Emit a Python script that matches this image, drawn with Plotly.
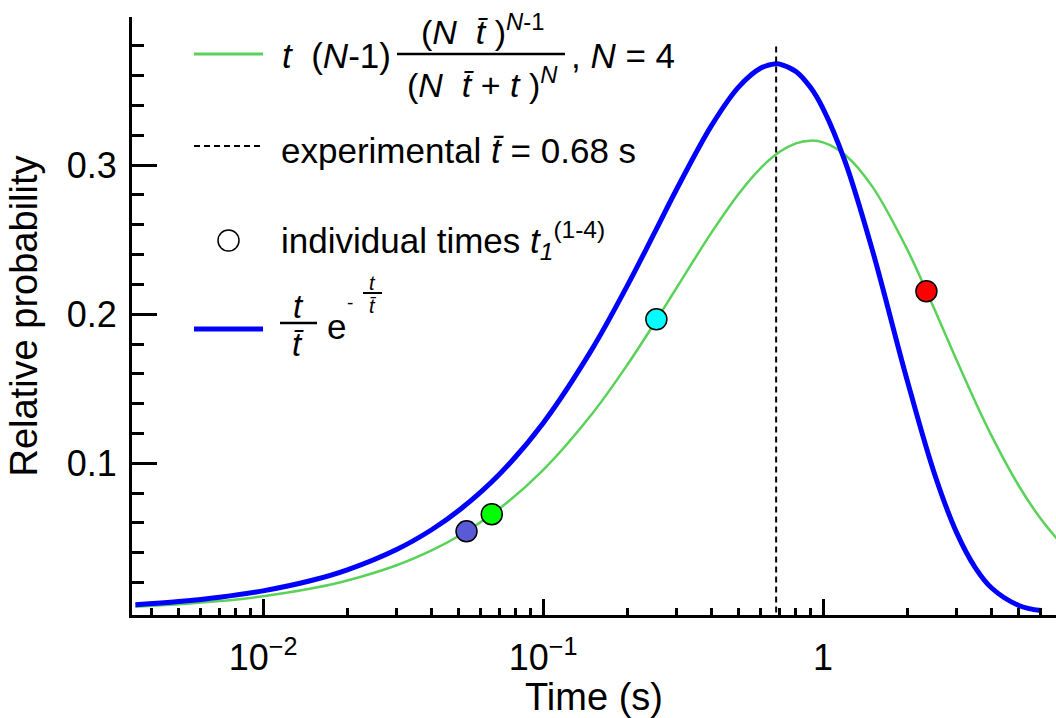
import plotly.graph_objects as go

# ---- data ----
t_bar = 0.68

t_blue = [0.0035, 0.005, 0.007, 0.01, 0.015, 0.02, 0.03, 0.04, 0.05, 0.07, 0.1, 0.15,
          0.2, 0.25, 0.3, 0.4, 0.5, 0.6, 0.68, 0.7, 0.8, 0.9, 1.0, 1.2, 1.5, 2.0, 2.5,
          3.0, 3.5, 4.0, 5.0, 6.0]
p_blue = [0.00512, 0.00730, 0.01019, 0.01449, 0.02158, 0.02856, 0.04221, 0.05546,
          0.06832, 0.09287, 0.12695, 0.17693, 0.21917, 0.25454, 0.28380, 0.32664,
          0.35247, 0.36513, 0.36788, 0.36772, 0.36278, 0.35232, 0.33793, 0.30218,
          0.24299, 0.15531, 0.09306, 0.05353, 0.02994, 0.01640, 0.00471, 0.00130]

t_green = [0.0035, 0.005, 0.007, 0.01, 0.015, 0.02, 0.03, 0.04, 0.05, 0.07, 0.1, 0.15,
           0.2, 0.25, 0.3, 0.4, 0.5, 0.6, 0.7, 0.8, 0.9, 1.0, 1.2, 1.5, 2.0, 2.5, 3.0,
           3.5, 4.0, 5.0, 6.0, 7.0]
p_green = [0.00384, 0.00547, 0.00764, 0.01087, 0.01618, 0.02142, 0.03167, 0.04162,
           0.05127, 0.06975, 0.09546, 0.13347, 0.16608, 0.19397, 0.21773, 0.25484,
           0.28079, 0.29814, 0.30890, 0.31459, 0.31640, 0.31525, 0.30681, 0.28554,
           0.24327, 0.20328, 0.16919, 0.14117, 0.11842, 0.08498, 0.06265, 0.04734]

t_points = [0.0533, 0.0656, 0.254, 2.34]
p_points = [0.0544, 0.0659, 0.1966, 0.2154]
point_colors = ["#5a5ad6", "#00ff00", "#00ffff", "#ff0000"]

dash_top = 0.38

x_major = [0.01, 0.1, 1]
x_major_text = ["10<sup>\u22122</sup>", "10<sup>\u22121</sup>", "1"]
x_minor = [0.004, 0.005, 0.006, 0.007, 0.008, 0.009,
           0.02, 0.03, 0.04, 0.05, 0.06, 0.07, 0.08, 0.09,
           0.2, 0.3, 0.4, 0.5, 0.6, 0.7, 0.8, 0.9,
           2, 3, 4, 5, 6]
y_major = [0.1, 0.2, 0.3]
y_major_text = ["0.1", "0.2", "0.3"]
y_minor = [0.02, 0.04, 0.06, 0.08, 0.12, 0.14, 0.16, 0.18, 0.22, 0.24, 0.26, 0.28,
           0.32, 0.34, 0.36, 0.38]

# ---- figure ----
W, H = 1056, 718
ML, MR, MT, MB = 132, 0, 17, 103
PW, PH = W - ML - MR, H - MT - MB

def px(x):
    return (x - ML) / PW

def py(y):
    return (H - MB - y) / PH

FONT = "Liberation Sans, Arial, sans-serif"
GREEN = "#5ad25a"
BLUE = "#0000ff"

fig = go.Figure()
fig.add_trace(go.Scatter(x=t_green, y=p_green, mode="lines", line=dict(color=GREEN, width=2.5, shape="spline"),
                         showlegend=False, hoverinfo="skip"))
fig.add_trace(go.Scatter(x=t_blue, y=p_blue, mode="lines", line=dict(color=BLUE, width=5, shape="spline"),
                         showlegend=False, hoverinfo="skip"))
fig.add_trace(go.Scatter(x=[t_bar, t_bar], y=[0, dash_top], mode="lines",
                         line=dict(color="black", width=2, dash="6px,4px"), showlegend=False))
fig.add_trace(go.Scatter(x=t_points, y=p_points, mode="markers",
                         marker=dict(size=21, color=point_colors, line=dict(color="black", width=1.5)),
                         showlegend=False))

fig.update_xaxes(type="log", range=[-2.468, 0.832], showline=True, linecolor="black", linewidth=3,
                 showgrid=False, zeroline=False, ticks="inside", ticklen=16, tickwidth=2.5, tickcolor="black",
                 tickmode="array", tickvals=x_major, ticktext=x_major_text, ticklabelstandoff=9,
                 tickfont=dict(family=FONT, size=36, color="black"),
                 minor=dict(tickmode="array", tickvals=x_minor, ticks="inside", ticklen=7,
                            tickwidth=2.5, tickcolor="black", showgrid=False),
                 title=dict(text="Time (s)", font=dict(family=FONT, size=38, color="black"), standoff=0))
fig.update_yaxes(range=[-0.0017, 0.3993], showline=True, linecolor="black", linewidth=3,
                 showgrid=False, zeroline=False, ticks="inside", ticklen=25, tickwidth=2.5, tickcolor="black",
                 tickmode="array", tickvals=y_major, ticktext=y_major_text, ticklabelstandoff=5,
                 tickfont=dict(family=FONT, size=36, color="black"),
                 minor=dict(tickmode="array", tickvals=y_minor, ticks="inside", ticklen=12,
                            tickwidth=2.5, tickcolor="black", showgrid=False),
                 title=dict(text="Relative probability", font=dict(family=FONT, size=38, color="black"),
                            standoff=18))

shapes = []
annos = []

def text(x, y, s, anchor="left", size=35):
    annos.append(dict(x=px(x), y=py(y), xref="paper", yref="paper", text=s, showarrow=False,
                      xanchor=anchor, yanchor="middle", font=dict(family=FONT, size=size, color="black")))

def seg(x0, x1, y, color, width, dash="solid"):
    shapes.append(dict(type="line", xref="paper", yref="paper", x0=px(x0), x1=px(x1), y0=py(y), y1=py(y),
                       line=dict(color=color, width=width, dash=dash)))

tb = "<i>t\u0304</i>"
# legend 1: green
seg(194, 263, 54, GREEN, 3)
text(280, 56, "<i>t</i>  (<i>N</i>-1)")
text(482, 30, "(<i>N</i>  " + tb + " )<sup><i>N</i>-1</sup>", anchor="center", size=34)
seg(397, 565, 54, "black", 2.5)
text(482, 82, "(<i>N</i>  " + tb + " + <i>t</i> )<sup><i>N</i></sup>", anchor="center", size=34)
text(569, 56, ", <i>N</i> = 4")
# legend 2: dashed
seg(194, 263, 146, "black", 2, "6px,4px")
text(279, 151, "experimental " + tb + " = 0.68 s")
# legend 3: open circle
shapes.append(dict(type="circle", xref="paper", yref="paper", x0=px(218), x1=px(239), y0=py(230), y1=py(251),
                   line=dict(color="black", width=1.5), fillcolor="white"))
text(279, 241, "individual times <i>t</i><sub><i>1</i></sub><sup>(1-4)</sup>")
# legend 4: blue
seg(194, 263, 329, BLUE, 5)
text(298, 306, "<i>t</i>", anchor="center", size=33)
seg(280, 317, 323, "black", 2.5)
text(298, 344, tb, anchor="center", size=33)
text(336, 326, "e", anchor="center", size=35)
text(350, 302, "-", anchor="center", size=19)
text(372, 283, "<i>t</i>", anchor="center", size=20)
seg(363, 382, 293, "black", 2)
text(372, 306, tb, anchor="center", size=20)

fig.update_layout(width=W, height=H, margin=dict(l=ML, r=MR, t=MT, b=MB),
                  plot_bgcolor="white", paper_bgcolor="white", shapes=shapes, annotations=annos,
                  font=dict(family=FONT, color="black"))

fig.write_html("out.html", config={"displayModeBar": False},
               post_script="document.body.style.margin='0px';document.body.style.overflow='hidden';")
